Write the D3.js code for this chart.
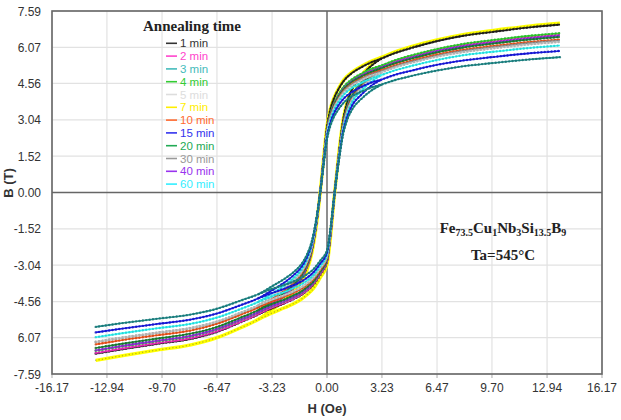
<!DOCTYPE html>
<html><head><meta charset="utf-8">
<script src="https://cdn.jsdelivr.net/npm/d3@7"></script>
<style>body{margin:0;background:#fff}svg{display:block}</style>
</head><body>
<svg id="c" width="621" height="420"></svg>
<script>
// ---- data ----
const xTicks = [-16.17,-12.94,-9.70,-6.47,-3.23,0.00,3.23,6.47,9.70,12.94,16.17];
const yTicks = [7.59,6.07,4.56,3.04,1.52,0.00,-1.52,-3.04,-4.56,-6.07,-7.59];
const yTickLabels = ["7.59","6.07","4.56","3.04","1.52","0.00","-1.52","-3.04","-4.56","6.07","-7.59"];
const xTickLabels = ["-16.17","-12.94","-9.70","-6.47","-3.23","0.00","3.23","6.47","9.70","12.94","16.17"];
const seriesNames = ["1 min","2 min","3 min","4 min","5 min","7 min","10 min","15 min","20 min","30 min","40 min","60 min"];
const seriesColors = ["#222222","#ff33cc","#1f8f8f","#33dd33","#d4d4d4","#ffff00","#ff5a1f","#1a1aee","#1e8a3a","#999999","#9933ee","#33ffff"];
const legendColors = ["#333333","#ff44cc","#44bbbb","#33cc33","#dddddd","#ffee00","#ff6a30","#3333ee","#22aa55","#999999","#9933ee","#33eeff"];
// descending branch field values (Oe)
const hDesc = [-13.6,-12,-10,-8,-6.47,-5,-4,-3.23,-2.5,-2,-1.5,-1.2,-0.9,-0.6,-0.4,-0.2,0,0.2,0.4,0.7,1,1.5,2,2.5,3.23,4,5,6.47,8,9.7,12,13.7];
// ascending branch field values (Oe), inside the open loop
const hAsc = [-4,-3.23,-2.5,-2,-1.5,-1.2,-0.8,-0.4,0,0.2,0.45,0.7,0.95,1.2,1.5,2,2.5,3.23];

const bDesc1  = [-6.74,-6.55,-6.33,-6.12,-5.83,-5.40,-5.08,-4.71,-4.33,-4.01,-3.58,-3.16,-2.46,-1.18,0,1.43,2.75,3.47,3.91,4.35,4.68,5.01,5.23,5.41,5.61,5.83,6.05,6.33,6.55,6.71,6.91,7.02];
const bAsc1   = [-5.08,-4.84,-4.63,-4.47,-4.28,-4.12,-3.85,-3.42,-2.89,-1.82,0,1.65,3.03,3.80,4.35,4.84,5.23,5.61];
const bDesc2  = [-6.71,-6.52,-6.30,-6.09,-5.80,-5.38,-5.06,-4.69,-4.31,-3.99,-3.57,-3.14,-2.45,-1.17,0,1.35,2.59,3.26,3.67,4.09,4.40,4.71,4.92,5.09,5.28,5.49,5.69,5.95,6.16,6.31,6.50,6.60];
const bAsc2   = [-5.06,-4.81,-4.61,-4.45,-4.26,-4.10,-3.83,-3.41,-2.88,-1.81,0,1.55,2.85,3.57,4.09,4.55,4.92,5.28];
const bDesc3  = [-5.62,-5.46,-5.28,-5.10,-4.86,-4.50,-4.24,-3.92,-3.61,-3.35,-2.99,-2.63,-2.05,-0.98,0,1.15,2.22,2.79,3.15,3.50,3.77,4.04,4.21,4.36,4.52,4.70,4.88,5.10,5.28,5.41,5.57,5.66];
const bAsc3   = [-4.24,-4.03,-3.86,-3.73,-3.57,-3.43,-3.21,-2.85,-2.41,-1.52,0,1.33,2.44,3.06,3.50,3.90,4.21,4.52];
const bDesc4  = [-6.62,-6.43,-6.22,-6.01,-5.72,-5.30,-4.99,-4.62,-4.25,-3.94,-3.52,-3.10,-2.42,-1.16,0,1.36,2.61,3.29,3.71,4.12,4.44,4.75,4.96,5.14,5.32,5.53,5.74,6.00,6.21,6.37,6.56,6.66];
const bAsc4   = [-4.99,-4.75,-4.55,-4.39,-4.20,-4.04,-3.78,-3.36,-2.84,-1.79,0,1.57,2.87,3.60,4.12,4.59,4.96,5.32];
const bDesc5  = [-6.24,-6.06,-5.86,-5.66,-5.40,-5.00,-4.70,-4.36,-4.01,-3.71,-3.32,-2.92,-2.28,-1.09,0,1.28,2.47,3.11,3.50,3.90,4.19,4.49,4.69,4.86,5.03,5.23,5.43,5.68,5.87,6.02,6.20,6.30];
const bAsc5   = [-4.70,-4.47,-4.29,-4.14,-3.96,-3.81,-3.56,-3.17,-2.67,-1.68,0,1.48,2.71,3.41,3.90,4.34,4.69,5.03];
const bDesc7  = [-7.02,-6.82,-6.59,-6.37,-6.07,-5.63,-5.29,-4.90,-4.51,-4.18,-3.73,-3.29,-2.56,-1.23,0,1.44,2.78,3.50,3.94,4.38,4.72,5.05,5.27,5.46,5.66,5.88,6.11,6.38,6.60,6.77,6.97,7.08];
const bAsc7   = [-5.29,-5.04,-4.82,-4.66,-4.46,-4.29,-4.01,-3.56,-3.01,-1.89,0,1.67,3.05,3.83,4.38,4.88,5.27,5.66];
const bDesc10 = [-6.35,-6.17,-5.97,-5.77,-5.49,-5.09,-4.79,-4.44,-4.08,-3.78,-3.38,-2.97,-2.32,-1.11,0,1.30,2.51,3.16,3.56,3.96,4.26,4.56,4.76,4.93,5.12,5.32,5.52,5.77,5.97,6.12,6.30,6.40];
const bAsc10  = [-4.79,-4.56,-4.36,-4.21,-4.03,-3.88,-3.63,-3.23,-2.72,-1.71,0,1.50,2.76,3.46,3.96,4.41,4.76,5.12];
const bDesc15 = [-5.85,-5.69,-5.50,-5.31,-5.06,-4.69,-4.41,-4.09,-3.76,-3.48,-3.11,-2.74,-2.14,-1.02,0,1.21,2.32,2.92,3.29,3.67,3.94,4.22,4.41,4.57,4.73,4.92,5.10,5.34,5.52,5.66,5.83,5.92];
const bAsc15  = [-4.41,-4.20,-4.02,-3.88,-3.72,-3.58,-3.34,-2.97,-2.51,-1.58,0,1.39,2.55,3.20,3.67,4.08,4.41,4.73];
const bDesc20 = [-6.50,-6.32,-6.11,-5.90,-5.62,-5.21,-4.90,-4.54,-4.18,-3.87,-3.46,-3.04,-2.37,-1.14,0,1.32,2.55,3.21,3.62,4.03,4.33,4.64,4.84,5.01,5.20,5.40,5.60,5.86,6.06,6.22,6.40,6.50];
const bAsc20  = [-4.90,-4.66,-4.47,-4.31,-4.13,-3.97,-3.72,-3.30,-2.79,-1.75,0,1.53,2.80,3.52,4.03,4.48,4.84,5.20];
const bDesc30 = [-6.25,-6.07,-5.87,-5.67,-5.41,-5.01,-4.71,-4.36,-4.02,-3.72,-3.32,-2.93,-2.28,-1.09,0,1.29,2.49,3.13,3.53,3.93,4.23,4.53,4.73,4.90,5.07,5.27,5.47,5.72,5.92,6.07,6.25,6.35];
const bAsc30  = [-4.71,-4.48,-4.30,-4.15,-3.97,-3.82,-3.57,-3.17,-2.68,-1.69,0,1.49,2.74,3.43,3.93,4.38,4.73,5.07];
const bDesc40 = [-6.60,-6.41,-6.20,-5.99,-5.71,-5.29,-4.98,-4.61,-4.24,-3.93,-3.51,-3.09,-2.41,-1.15,0,1.34,2.57,3.24,3.65,4.06,4.36,4.67,4.88,5.05,5.24,5.44,5.65,5.91,6.11,6.26,6.45,6.55];
const bAsc40  = [-4.98,-4.74,-4.54,-4.38,-4.19,-4.03,-3.77,-3.35,-2.83,-1.78,0,1.54,2.82,3.54,4.06,4.52,4.88,5.24];
const bDesc60 = [-6.05,-5.88,-5.68,-5.49,-5.23,-4.85,-4.56,-4.22,-3.89,-3.60,-3.22,-2.83,-2.21,-1.06,0,1.25,2.41,3.04,3.42,3.81,4.10,4.39,4.58,4.74,4.92,5.11,5.30,5.54,5.74,5.88,6.05,6.15];
const bAsc60  = [-4.56,-4.34,-4.16,-4.01,-3.84,-3.70,-3.46,-3.07,-2.59,-1.63,0,1.45,2.65,3.31,3.81,4.24,4.58,4.92];

const descSets = [bDesc1,bDesc2,bDesc3,bDesc4,bDesc5,bDesc7,bDesc10,bDesc15,bDesc20,bDesc30,bDesc40,bDesc60];
const ascSets  = [bAsc1,bAsc2,bAsc3,bAsc4,bAsc5,bAsc7,bAsc10,bAsc15,bAsc20,bAsc30,bAsc40,bAsc60];
const drawOrder = [5,0,1,3,10,8,6,9,4,11,7,2];

// ---- chart ----
const svg = d3.select("#c");
const L = 52, R = 602, T = 11, B = 374;
const x = d3.scaleLinear().domain([-16.17,16.17]).range([L,R]);
const y = d3.scaleLinear().domain([-7.59,7.59]).range([B,T]);

const g = svg.append("g");
g.selectAll(".vg").data(xTicks).join("line")
  .attr("x1",d=>x(d)).attr("x2",d=>x(d)).attr("y1",T).attr("y2",B+4)
  .attr("stroke","#e2e2e2").attr("stroke-width",1.2);
g.selectAll(".hg").data(yTicks).join("line")
  .attr("x1",L).attr("x2",R).attr("y1",d=>y(d)).attr("y2",d=>y(d))
  .attr("stroke","#e2e2e2").attr("stroke-width",1.2);
g.selectAll(".tk").data(xTicks).join("line")
  .attr("x1",d=>x(d)).attr("x2",d=>x(d)).attr("y1",B).attr("y2",B+4)
  .attr("stroke","#bbb").attr("stroke-width",1);

svg.append("line").attr("x1",x(0)).attr("x2",x(0)).attr("y1",T).attr("y2",B).attr("stroke","#666").attr("stroke-width",1.4);
svg.append("line").attr("x1",L).attr("x2",R).attr("y1",y(0)).attr("y2",y(0)).attr("stroke","#666").attr("stroke-width",1.4);

svg.append("rect").attr("x",L).attr("y",T).attr("width",R-L).attr("height",B-T)
  .attr("fill","none").attr("stroke","#666").attr("stroke-width",1.6);

svg.selectAll(".xl").data(xTicks).join("text")
  .attr("x",d=>x(d)).attr("y",392).attr("text-anchor","middle")
  .attr("font-family","Liberation Sans, Arial, sans-serif").attr("font-size",12).attr("fill","#333")
  .text((d,i)=>xTickLabels[i]);
svg.selectAll(".yl").data(yTicks).join("text")
  .attr("x",41).attr("y",d=>y(d)+4.5).attr("text-anchor","end")
  .attr("font-family","Liberation Sans, Arial, sans-serif").attr("font-size",12).attr("fill","#333")
  .text((d,i)=>yTickLabels[i]);

svg.append("text").attr("x",x(0)).attr("y",413).attr("text-anchor","middle")
  .attr("font-family","Liberation Sans, Arial, sans-serif").attr("font-size",13).attr("font-weight","bold").attr("fill","#333")
  .text("H (Oe)");
svg.append("text").attr("transform","translate(13,183) rotate(-90)").attr("text-anchor","middle")
  .attr("font-family","Liberation Sans, Arial, sans-serif").attr("font-size",13).attr("font-weight","bold").attr("fill","#333")
  .text("B (T)");

const line = d3.line().x(d=>x(d[0])).y(d=>y(d[1])).curve(d3.curveMonotoneX);
svg.append("clipPath").attr("id","pc").append("rect").attr("x",L).attr("y",T).attr("width",R-L).attr("height",B-T);
const cg = svg.append("g").attr("clip-path","url(#pc)");
drawOrder.forEach(i=>{
  const col = seriesColors[i];
  const dots = d3.color(col).darker(0.6).formatHex();
  const desc = hDesc.map((h,k)=>[h,descSets[i][k]]);
  const asc = hAsc.map((h,k)=>[h,ascSets[i][k]]);
  const w = i===5 ? 3.4 : 1.6;
  [desc,asc].forEach(pts=>{
    cg.append("path").attr("d",line(pts)).attr("fill","none").attr("stroke",col).attr("stroke-width",w);
    cg.append("path").attr("d",line(pts)).attr("fill","none").attr("stroke",i===5?"#333":dots)
      .attr("stroke-width",i===5?1.5:2.4).attr("stroke-linecap","round").attr("stroke-dasharray","0,3.4")
      .attr("opacity",i===5?0.35:0.85);
  });
});

svg.append("text").attr("x",192).attr("y",31).attr("text-anchor","middle")
  .attr("font-family","Liberation Serif, Times New Roman, serif").attr("font-size",15).attr("font-weight","bold").attr("fill","#222")
  .text("Annealing time");
const lg = svg.append("g");
seriesNames.forEach((n,i)=>{
  const yy = 43.3 + i*12.8;
  lg.append("line").attr("x1",166).attr("x2",177).attr("y1",yy).attr("y2",yy).attr("stroke",legendColors[i]).attr("stroke-width",1.6);
  lg.append("text").attr("x",180).attr("y",yy+4).attr("font-family","Liberation Sans, Arial, sans-serif").attr("font-size",11.5)
    .attr("fill",legendColors[i]).text(n);
});

const ann = svg.append("text").attr("x",503).attr("y",233).attr("text-anchor","middle")
  .attr("font-family","Liberation Serif, Times New Roman, serif").attr("font-size",15).attr("font-weight","bold").attr("fill","#222");
[["Fe",false],["73.5",true],["Cu",false],["1",true],["Nb",false],["3",true],["Si",false],["13.5",true],["B",false],["9",true]].forEach(([t,sub],k,arr)=>{
  const prevSub = k>0 && arr[k-1][1];
  ann.append("tspan").attr("font-size",sub?10:15).attr("dy",sub?3:(prevSub?-3:0)).text(t);
});
svg.append("text").attr("x",503).attr("y",260).attr("text-anchor","middle")
  .attr("font-family","Liberation Serif, Times New Roman, serif").attr("font-size",15).attr("font-weight","bold").attr("fill","#222")
  .text("Ta=545°C");
</script>
</body></html>
